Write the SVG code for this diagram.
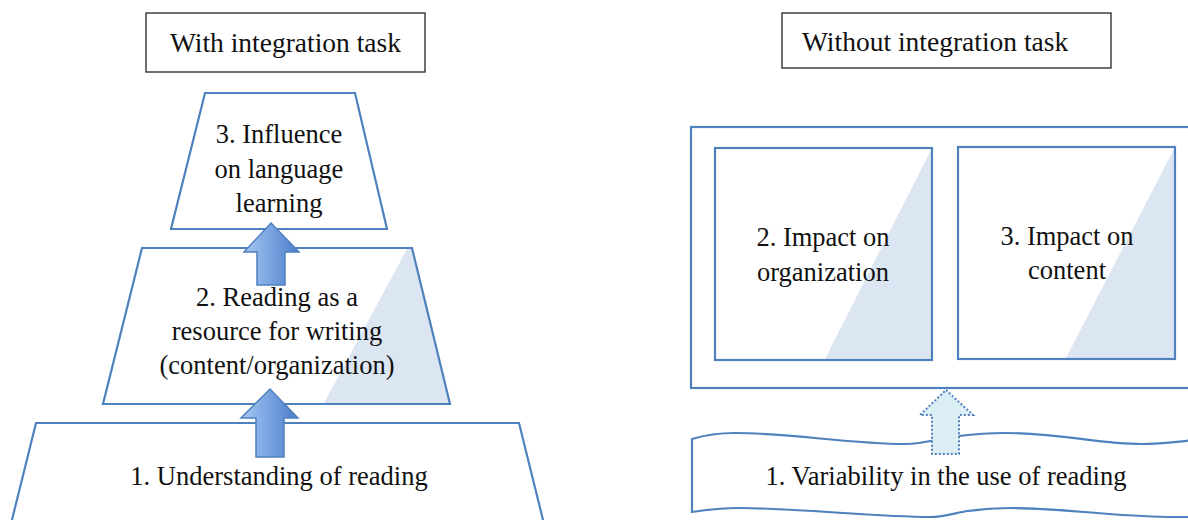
<svg xmlns="http://www.w3.org/2000/svg" width="1188" height="520" viewBox="0 0 1188 520">
  <defs>
    <linearGradient id="arrowFill" x1="0" y1="0" x2="1" y2="0">
      <stop offset="0" stop-color="#A6C8F6"/>
      <stop offset="1" stop-color="#4A7DC9"/>
    </linearGradient>
    <style>
      text { font-family: 'Liberation Serif', 'Times New Roman', Times, 'DejaVu Serif', serif; fill: #111; }
      .label { font-size: 26.5px; text-anchor: middle; }
      .title { font-size: 27.5px; }
      .hdr { fill: #fff; stroke: #333; stroke-width: 1.4; }
      .shape { fill: #fff; stroke: #4F81BD; stroke-width: 2.2; stroke-linejoin: miter; }
      .outline { fill: none; stroke: #4F81BD; stroke-width: 2.2; }
      .shade { fill: #DCE6F2; }
      .up { fill: url(#arrowFill); stroke: #4F81BD; stroke-width: 1.5; }
      .upDotted { fill: #DAEEF3; stroke: #4F81BD; stroke-width: 2; stroke-dasharray: 2 2; }
    </style>
  </defs>

  <!-- Left panel -->
  <g id="title-with">
    <rect class="hdr" x="146" y="13" width="279" height="59"/>
    <text class="title" x="285.5" y="52" text-anchor="middle" font-family="Liberation Serif, serif">With integration task</text>
  </g>

  <g id="understanding">
    <polygon class="shape" points="36,423 519,423 548,540 7,540"/>
    <text class="label" x="279" y="485" font-family="Liberation Serif, serif">1. Understanding of reading</text>
  </g>

  <g id="resource">
    <polygon points="142,248 412,248 450,404 103,404" fill="#fff"/>
    <polygon class="shade" points="407,249 412,249 450,403 324,403"/>
    <polygon class="outline" points="142,248 412,248 450,404 103,404"/>
    <text class="label" x="277" y="306" font-family="Liberation Serif, serif">2. Reading as a</text>
    <text class="label" x="277" y="340" font-family="Liberation Serif, serif">resource for writing</text>
    <text class="label" x="277" y="374" font-family="Liberation Serif, serif">(content/organization)</text>
  </g>

  <g id="influence">
    <polygon class="shape" points="205,93 355,93 387,229 171,229"/>
    <text class="label" x="279" y="143" font-family="Liberation Serif, serif">3. Influence</text>
    <text class="label" x="279" y="178" font-family="Liberation Serif, serif">on language</text>
    <text class="label" x="279" y="212" font-family="Liberation Serif, serif">learning</text>
  </g>

  <!-- Right panel -->
  <g id="title-without">
    <rect class="hdr" x="782" y="13" width="329" height="55"/>
    <text class="title" x="802" y="51" font-family="Liberation Serif, serif">Without integration task</text>
  </g>

  <g id="impact-group">
    <rect class="shape" x="691" y="127" width="520" height="261"/>
  </g>

  <g id="impact-organization">
    <rect x="715" y="148" width="217" height="212" fill="#fff"/>
    <polygon class="shade" points="931,150 931,359 825,359"/>
    <rect class="outline" x="715" y="148" width="217" height="212"/>
    <text class="label" x="823" y="246" font-family="Liberation Serif, serif">2. Impact on</text>
    <text class="label" x="823" y="281" font-family="Liberation Serif, serif">organization</text>
  </g>

  <g id="impact-content">
    <rect x="958" y="147" width="217" height="212" fill="#fff"/>
    <polygon class="shade" points="1174,149 1174,358 1066,358"/>
    <rect class="outline" x="958" y="147" width="217" height="212"/>
    <text class="label" x="1067" y="245" font-family="Liberation Serif, serif">3. Impact on</text>
    <text class="label" x="1067" y="279" font-family="Liberation Serif, serif">content</text>
  </g>

  <g id="variability">
    <path class="shape" d="M692,439 C705,435 718,433 735,433 C790,433 850,444 905,444 C925,444 940,438 959,436 C975,434 990,433 1005,433 C1060,433 1100,444 1141,444 C1160,444 1175,442 1195,440 L1195,517 C1185,517 1175,517 1167,517 C1110,516 1060,508 1011,508 C990,508 980,510 967,511 C955,513 945,517 930,517 C880,517 790,508 740,508 C720,508 705,510 692,512 Z"/>
    <text class="label" x="946" y="485" font-family="Liberation Serif, serif">1. Variability in the use of reading</text>
  </g>

  <!-- Connectors -->
  <g id="connectors">
    <polygon class="up" points="271,223 299,252 285,252 285,285 257,285 257,252 244,252"/>
    <polygon class="up" points="270,389 298,418 284,418 284,457 256,457 256,418 241,418"/>
    <polygon class="upDotted" points="946,390 973,415 959,415 959,454 932,454 932,415 920,415"/>
  </g>
</svg>
